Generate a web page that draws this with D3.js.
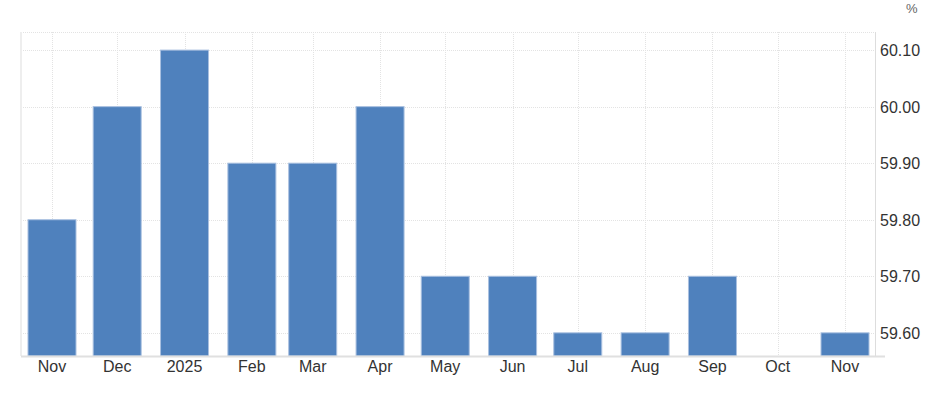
<!DOCTYPE html>
<html>
<head>
<meta charset="utf-8">
<script src="https://cdn.jsdelivr.net/npm/d3@7/dist/d3.min.js"></script>
<style>
  body { margin: 0; background: #fff; }
  svg { display: block; font-family: "Liberation Sans", Arial, sans-serif; }
</style>
</head>
<body>
<svg id="chart" width="931" height="393"></svg>
<script>
// monthly values, Oct 2025 has no reading
const months = ['2024-11', '2024-12', '2025-01', '2025-02', '2025-03', '2025-04',
  '2025-05', '2025-06', '2025-07', '2025-08', '2025-09', '2025-10', '2025-11'];
const labels = ['Nov', 'Dec', '2025', 'Feb', 'Mar', 'Apr', 'May', 'Jun', 'Jul',
  'Aug', 'Sep', 'Oct', 'Nov'];
const values = [59.8, 60.0, 60.1, 59.9, 59.9, 60.0, 59.7, 59.7, 59.6, 59.6, 59.7,
  null, 59.6];
const yTicks = [59.6, 59.7, 59.8, 59.9, 60.0, 60.1];

const parse = d3.utcParse('%Y-%m');
const dates = months.map(parse);

const svg = d3.select('#chart');
const plotL = 21;
const plotR = 875;
const plotT = 32;
const plotB = 356;
const barW = 48;

const x = d3.scaleUtc()
    .domain([dates[0], dates[dates.length - 1]])
    .range([52, 845]);
const y = d3.scaleLinear()
    .domain([59.559, 60.132])
    .range([plotB, plotT]);

// grid
const grid = svg.append('g')
    .attr('stroke', '#e3e3e3')
    .attr('stroke-dasharray', '1,1');
grid.selectAll('.h')
    .data(yTicks.concat([y.invert(plotT)]))
    .join('line')
    .attr('x1', plotL).attr('x2', plotR)
    .attr('y1', (d) => Math.round(y(d)) + 0.5)
    .attr('y2', (d) => Math.round(y(d)) + 0.5);
grid.selectAll('.v')
    .data(dates)
    .join('line')
    .attr('x1', (d) => Math.round(x(d)) + 0.5)
    .attr('x2', (d) => Math.round(x(d)) + 0.5)
    .attr('y1', plotT).attr('y2', plotB);

// frame lines
svg.append('line')
    .attr('x1', plotL).attr('x2', plotL)
    .attr('y1', plotT).attr('y2', plotB)
    .attr('stroke', '#eeeeee').attr('stroke-width', 2);
svg.append('line')
    .attr('x1', plotR + 0.5).attr('x2', plotR + 0.5)
    .attr('y1', plotT).attr('y2', plotB)
    .attr('stroke', '#dddddd');

// bars
svg.append('g')
    .selectAll('rect')
    .data(values.map((v, i) => ({v, d: dates[i]})).filter((o) => o.v !== null))
    .join('rect')
    .attr('x', (o) => x(o.d) - barW / 2)
    .attr('width', barW)
    .attr('y', (o) => y(o.v))
    .attr('height', (o) => plotB - y(o.v))
    .attr('fill', '#4f81bd')
    .attr('stroke', '#a9c0e0')
    .attr('stroke-width', 1);

svg.append('line')
    .attr('x1', plotL).attr('x2', 885)
    .attr('y1', plotB + 0.5).attr('y2', plotB + 0.5)
    .attr('stroke', '#e0e0e0').attr('stroke-width', 2);

// x labels
svg.append('g')
    .selectAll('text')
    .data(labels)
    .join('text')
    .attr('x', (d, i) => x(dates[i]))
    .attr('y', 372)
    .attr('text-anchor', 'middle')
    .attr('font-size', 16)
    .attr('fill', '#333')
    .text((d) => d);

// y labels
svg.append('g')
    .selectAll('text')
    .data(yTicks)
    .join('text')
    .attr('x', 880)
    .attr('y', (d) => y(d) + 6)
    .attr('font-size', 16)
    .attr('fill', '#333')
    .text((d) => d3.format('.2f')(d));

svg.append('text')
    .attr('x', 906).attr('y', 13)
    .attr('font-size', 13)
    .attr('fill', '#666')
    .text('%');
</script>
</body>
</html>
